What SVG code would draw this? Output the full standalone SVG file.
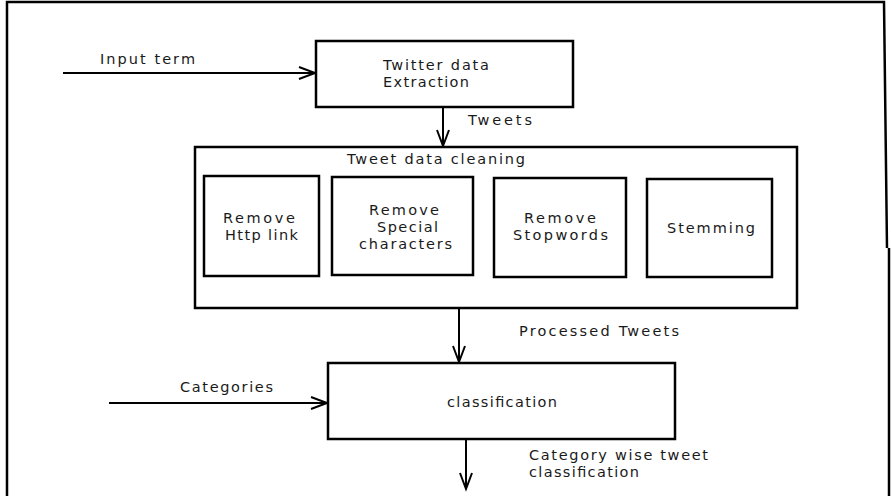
<svg xmlns="http://www.w3.org/2000/svg" width="892" height="496" viewBox="0 0 892 496">
<style>
.box{fill:#fff;stroke:#000;stroke-width:2.5}
.t{font-family:"DejaVu Sans",Verdana,sans-serif;font-size:14.5px;fill:#1a1a1a}
.ln{stroke:#000;stroke-width:2;fill:none}
</style>
<defs>
<marker id="ah" markerUnits="userSpaceOnUse" markerWidth="24" markerHeight="20" viewBox="-20 -10 24 20" refX="0" refY="0" orient="auto">
<path d="M-16,-6 L0,0 L-16,6" fill="none" stroke="#000" stroke-width="2"/>
</marker>
</defs>
<rect width="892" height="496" fill="#fff"/>
<g id="frame">
<path d="M7,496 V2 H884 L887,248" fill="none" stroke="#000" stroke-width="2.5"/>
<path d="M889,248 V496" fill="none" stroke="#000" stroke-width="2.5"/>
</g>
<g id="connectors">
<line class="ln" x1="63" y1="73" x2="315" y2="73" marker-end="url(#ah)"/>
<line class="ln" x1="443" y1="107" x2="443" y2="146" marker-end="url(#ah)"/>
<line class="ln" x1="459" y1="308" x2="459" y2="362" marker-end="url(#ah)"/>
<line class="ln" x1="109" y1="403" x2="327" y2="403" marker-end="url(#ah)"/>
<line class="ln" x1="466" y1="439" x2="466" y2="489" marker-end="url(#ah)"/>
<text class="t" x="100" y="64" textLength="95" lengthAdjust="spacing">Input term</text>
<text class="t" x="468" y="125" textLength="64" lengthAdjust="spacing">Tweets</text>
<text class="t" x="519" y="336" textLength="160" lengthAdjust="spacing">Processed Tweets</text>
<text class="t" x="180" y="392" textLength="93" lengthAdjust="spacing">Categories</text>
<text class="t" x="529" y="460" textLength="179" lengthAdjust="spacing">Category wise tweet</text>
<text class="t" x="529" y="477" textLength="110" lengthAdjust="spacing">classification</text>
</g>
<g id="extraction">
<rect class="box" x="316" y="41" width="257" height="66"/>
<text class="t" x="383" y="70" textLength="106" lengthAdjust="spacing">Twitter data</text>
<text class="t" x="383" y="87" textLength="86" lengthAdjust="spacing">Extraction</text>
</g>
<g id="cleaning">
<rect class="box" x="195" y="147" width="602" height="161"/>
<text class="t" x="347" y="164" textLength="178" lengthAdjust="spacing">Tweet data cleaning</text>
</g>
<g id="http">
<rect class="box" x="204" y="176" width="115" height="100"/>
<text class="t" x="223" y="223" textLength="72" lengthAdjust="spacing">Remove</text>
<text class="t" x="225" y="240" textLength="73" lengthAdjust="spacing">Http link</text>
</g>
<g id="special">
<rect class="box" x="332" y="177" width="141" height="98"/>
<text class="t" x="369" y="215" textLength="70" lengthAdjust="spacing">Remove</text>
<text class="t" x="377" y="232" textLength="61" lengthAdjust="spacing">Special</text>
<text class="t" x="359" y="249" textLength="93" lengthAdjust="spacing">characters</text>
</g>
<g id="stopwords">
<rect class="box" x="494" y="178" width="132" height="99"/>
<text class="t" x="524" y="223" textLength="72" lengthAdjust="spacing">Remove</text>
<text class="t" x="513" y="240" textLength="95" lengthAdjust="spacing">Stopwords</text>
</g>
<g id="stemming">
<rect class="box" x="647" y="179" width="125" height="98"/>
<text class="t" x="667" y="233" textLength="88" lengthAdjust="spacing">Stemming</text>
</g>
<g id="classification">
<rect class="box" x="328" y="363" width="347" height="76"/>
<text class="t" x="447" y="407" textLength="110" lengthAdjust="spacing">classification</text>
</g>
</svg>
